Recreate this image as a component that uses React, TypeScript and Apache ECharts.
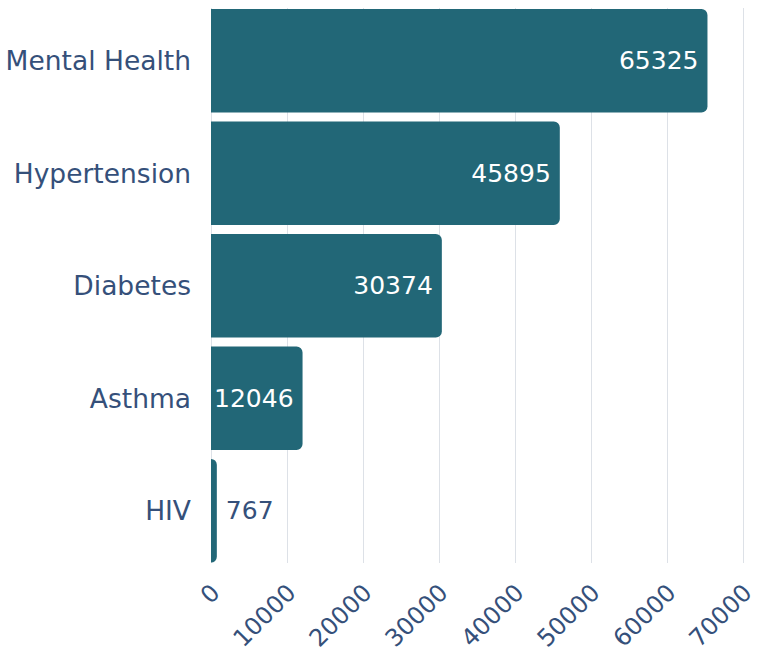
import React, { useEffect, useRef } from "react";
import * as echarts from "echarts";

const categories = ["Mental Health", "Hypertension", "Diabetes", "Asthma", "HIV"];
const values = [65325, 45895, 30374, 12046, 767];
const axisMax = 70000;
const axisStep = 10000;

const FONT = "DejaVu Sans";
const TEXT = "#35507a";
const BAR = "#226777";

export default function App() {
  const ref = useRef<HTMLDivElement>(null);
  useEffect(() => {
    if (!ref.current) return;
    const chart = echarts.init(ref.current, undefined, { renderer: "svg" });
    chart.setOption({
      animation: false,
      textStyle: { fontFamily: FONT },
      grid: [
        { left: 211, right: 18, top: 8, height: 555, containLabel: false },
        { left: 211, right: 18, top: 4.5, height: 562.5, containLabel: false },
      ],
      xAxis: [
        {
          type: "value",
          gridIndex: 0,
          min: 0,
          max: axisMax,
          interval: axisStep,
          axisLine: { show: false },
          axisTick: { show: false },
          splitLine: { show: true, lineStyle: { color: "#dde1e7", width: 1 } },
          axisLabel: {
            rotate: 45,
            margin: 21,
            color: TEXT,
            fontSize: 24,
            fontFamily: FONT,
            verticalAlign: "top",
            lineHeight: 13,
            formatter: (v: number) => String(v),
          },
        },
        {
          type: "value",
          gridIndex: 1,
          min: 0,
          max: axisMax,
          show: false,
        },
      ],
      yAxis: [
        { type: "category", gridIndex: 0, data: categories, inverse: true, show: false },
        {
          type: "category",
          gridIndex: 1,
          data: categories,
          inverse: true,
          axisLine: { show: false },
          axisTick: { show: false },
          splitLine: { show: false },
          axisLabel: { color: TEXT, fontSize: 26.5, margin: 20, fontFamily: FONT },
        },
      ],
      series: [
        {
          type: "bar",
          xAxisIndex: 1,
          yAxisIndex: 1,
          barCategoryGap: "7.8%",
          itemStyle: { color: BAR, borderRadius: [0, 6, 6, 0] },
          label: {
            show: true,
            position: "insideRight",
            distance: 9,
            color: "#ffffff",
            fontSize: 25,
            fontFamily: FONT,
          },
          data: values.map((v) =>
            v < 5000
              ? { value: v, label: { position: "right", color: TEXT, distance: 9 } }
              : { value: v }
          ),
        },
      ],
    });
    return () => chart.dispose();
  }, []);
  return (
    <div
      ref={ref}
      style={{ position: "absolute", left: 0, top: 0, width: 761, height: 654 }}
    />
  );
}
